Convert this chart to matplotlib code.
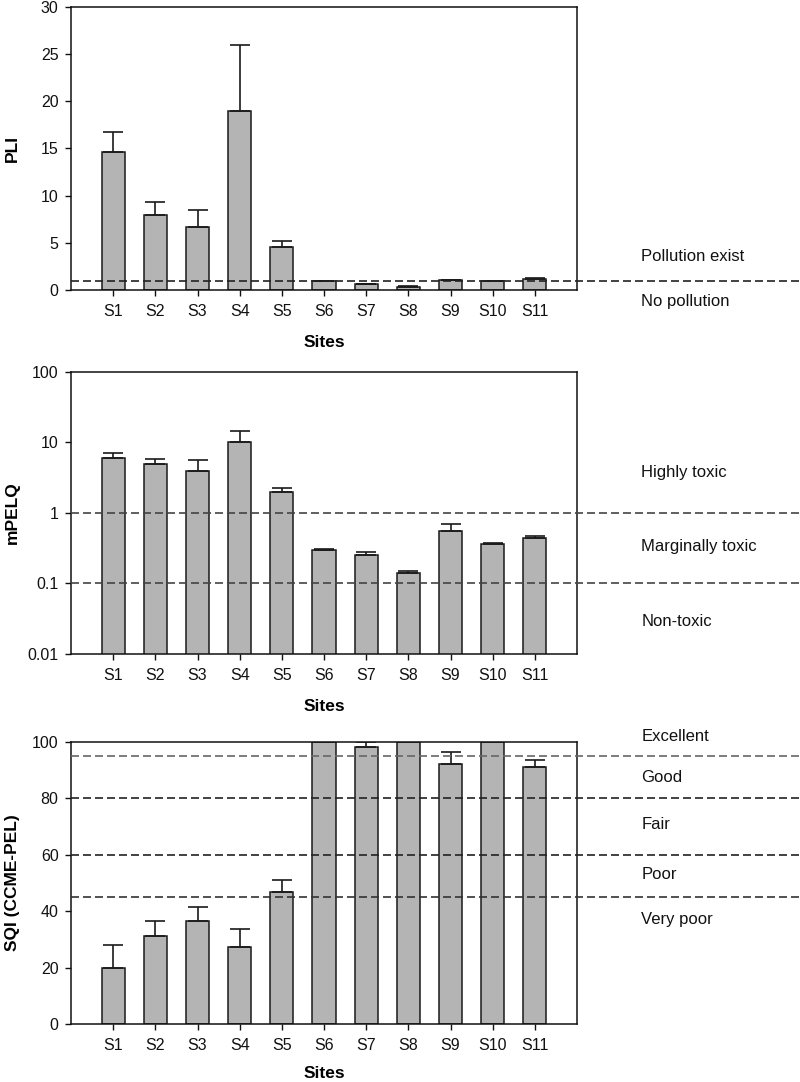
import matplotlib
matplotlib.use("Agg")
import matplotlib.pyplot as plt
import matplotlib.transforms as mtransforms
from matplotlib.ticker import FuncFormatter, NullLocator

plt.rcParams['font.family'] = ['Liberation Sans', 'DejaVu Sans']

# data
sites = ["S1", "S2", "S3", "S4", "S5", "S6", "S7", "S8", "S9", "S10", "S11"]

pli = [14.6, 7.9, 6.65, 19.0, 4.55, 0.9, 0.62, 0.33, 1.05, 0.95, 1.2]
pli_err = [2.1, 1.4, 1.8, 7.0, 0.65, 0.08, 0.06, 0.04, 0.04, 0.04, 0.08]

mpelq = [5.9, 4.86, 3.9, 10.2, 1.95, 0.294, 0.255, 0.139, 0.552, 0.365, 0.444]
mpelq_err = [1.1, 1.0, 1.7, 4.1, 0.32, 0.016, 0.021, 0.009, 0.14, 0.005, 0.026]

sqi = [20.0, 31.3, 36.4, 27.4, 46.6, 100.0, 98.2, 100.0, 92.2, 100.0, 90.9]
sqi_err = [8.1, 5.3, 5.0, 6.1, 4.3, 0.0, 1.8, 0.0, 4.3, 0.0, 2.7]

pli_limits = [1]
pli_zones = ["Pollution exist", "No pollution"]

mpelq_limits = [1, 0.1]
mpelq_zones = ["Highly toxic", "Marginally toxic", "Non-toxic"]

sqi_limits = [95, 80, 60, 45]
sqi_zones = ["Excellent", "Good", "Fair", "Poor", "Very poor"]

fig = plt.figure(figsize=(8, 10.82), dpi=100)

ax1 = fig.add_axes([0.08875, 0.732, 0.6325, 0.2616])
ax2 = fig.add_axes([0.08875, 0.3956, 0.6325, 0.2609])
ax3 = fig.add_axes([0.08875, 0.0536, 0.6325, 0.2609])

x = list(range(1, len(sites) + 1))


def draw_panel(ax, vals, errs, ylabel, xlab_y=-0.16):
    ax.bar(x, vals, width=0.55, color="#b4b4b4", edgecolor="#1a1a1a",
           linewidth=1.1, zorder=2)
    ax.errorbar(x, vals, yerr=[[0] * len(errs), errs], fmt="none",
                ecolor="#1a1a1a", elinewidth=1.2, capsize=7.5, capthick=1.2,
                zorder=3)
    ax.set_xlim(0, 12)
    ax.set_xticks(x)
    ax.set_xticklabels(sites)
    ax.tick_params(axis="both", direction="out", length=4, width=1.0,
                   labelsize=11.5, colors="#111111")
    ax.tick_params(axis="x", pad=6)
    ax.tick_params(axis="y", pad=5)
    for s in ax.spines.values():
        s.set_linewidth(1.1)
        s.set_color("#111111")
    ax.set_xlabel("Sites", fontsize=12.5, fontweight="bold")
    ax.xaxis.set_label_coords(0.5, xlab_y)
    ax.set_ylabel(ylabel, fontsize=12.5, fontweight="bold")
    ax.yaxis.set_label_coords(-0.101, 0.5)


def ref_lines(ax, levels, colors):
    for lv, c in zip(levels, colors):
        ax.axhline(lv, xmin=0, xmax=1.45, color=c, linewidth=1.2,
                   dashes=(4.8, 2.4), clip_on=False, zorder=4)


def zone_text(ax, labels, ys):
    tr = mtransforms.blended_transform_factory(ax.transAxes, ax.transData)
    for lab, yy in zip(labels, ys):
        ax.text(1.127, yy, lab, transform=tr, ha="left", va="center",
                fontsize=12, color="#111111", clip_on=False)


# PLI
draw_panel(ax1, pli, pli_err, "PLI")
ax1.set_ylim(0, 30)
ax1.set_yticks([0, 5, 10, 15, 20, 25, 30])
ref_lines(ax1, pli_limits, ["#222222"])
zone_text(ax1, pli_zones, [3.5, -1.25])

# mPELQ
draw_panel(ax2, mpelq, mpelq_err, "mPELQ")
ax2.set_yscale("log")
ax2.set_ylim(0.01, 100)
ax2.set_yticks([0.01, 0.1, 1, 10, 100])
ax2.yaxis.set_major_formatter(FuncFormatter(lambda v, p: "{:g}".format(v)))
ax2.yaxis.set_minor_locator(NullLocator())
ref_lines(ax2, mpelq_limits, ["#444444", "#444444"])
zone_text(ax2, mpelq_zones, [3.7, 0.33, 0.029])

# SQI
draw_panel(ax3, sqi, sqi_err, "SQI (CCME-PEL)", xlab_y=-0.148)
ax3.set_ylim(0, 100)
ax3.set_yticks([0, 20, 40, 60, 80, 100])
ref_lines(ax3, sqi_limits, ["#666666", "#222222", "#222222", "#333333"])
zone_text(ax3, sqi_zones, [102, 87.4, 70.8, 53.1, 37.1])

fig.savefig("out.png", dpi=100)
